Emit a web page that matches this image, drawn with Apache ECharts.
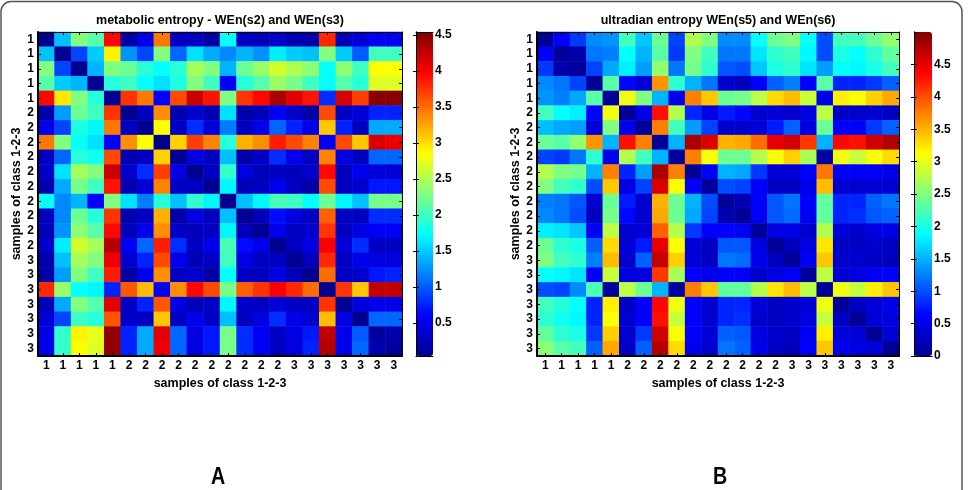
<!DOCTYPE html>
<html>
<head>
<meta charset="UTF-8">
<title>entropy heatmaps</title>
<script type="text/javascript" src="https://cdn.jsdelivr.net/npm/echarts@6/dist/echarts.min.js"></script>
<style type="text/css">
body {
	margin: 0;
	background-color: #ffffff
}
</style>
</head>
<body>
	<div id="chart" style="width: 973px; height: 490px"></div>
</body>
<script type="text/javascript">
	// class of each sample, same order on both axes
	var classLabels = ['1','1','1','1','1','2','2','2','2','2','2','2','2','2','2','3','3','3','3','3','3','3'];

	var titleA = 'metabolic entropy - WEn(s2) and WEn(s3)';
	var titleB = 'ultradian entropy WEn(s5) and WEn(s6)';
	var axisTitle = 'samples of class 1-2-3';

	// colour scale ranges
	var rangeA = [0.04, 4.54];
	var rangeB = [0, 5.0];

	// metabolic entropy matrix, one row per sample (top to bottom)
	var metabolic = [
		[0.05,1.45,2.3,2.1,3.95,0.15,0.5,3.45,0.3,0.3,0.15,1.75,0.3,0.25,0.35,0.2,0.2,3.8,0.25,0.4,0.55,0.55],
		[1.45,0.05,0.9,1.5,2.9,1.25,0.9,2.3,1.05,1.6,1.35,1.2,1.4,1.25,1.65,1.5,1.45,2.3,1.5,1.0,2.0,2.0],
		[2.3,0.9,0.05,1.4,2.3,2.2,1.9,1.75,1.9,2.45,2.3,1.4,2.2,2.4,2.65,2.5,2.35,1.75,2.35,2.0,2.85,2.85],
		[2.1,1.5,1.4,0.05,1.9,2.0,1.75,1.6,1.85,2.3,2.0,0.6,1.9,2.1,2.4,2.25,2.0,1.75,2.1,1.9,2.7,2.7],
		[3.95,2.95,2.3,1.9,0.05,3.75,3.45,0.6,3.65,4.2,3.9,2.3,3.75,3.95,4.35,4.1,3.9,0.8,4.15,3.7,4.5,4.5],
		[0.2,1.3,2.2,2.0,3.75,0.05,0.3,3.35,0.2,0.35,0.2,1.6,0.2,0.25,0.55,0.35,0.15,3.65,0.3,0.4,0.75,0.75],
		[0.5,0.9,1.85,1.7,3.45,0.3,0.05,2.85,0.3,0.8,0.4,1.15,0.3,0.5,1.05,0.75,0.5,3.1,0.75,0.3,1.35,1.35],
		[3.45,2.3,1.75,1.6,0.6,3.35,2.85,0.05,3.05,3.7,3.4,1.9,3.2,3.35,3.85,3.65,3.4,0.55,3.65,3.1,4.15,4.05],
		[0.3,1.05,1.9,1.8,3.65,0.2,0.3,3.05,0.05,0.45,0.3,1.45,0.15,0.3,0.8,0.5,0.3,3.4,0.45,0.3,1.05,1.05],
		[0.35,1.6,2.45,2.3,4.2,0.35,0.8,3.7,0.45,0.05,0.3,1.95,0.45,0.25,0.3,0.25,0.35,3.95,0.25,0.5,0.4,0.4],
		[0.2,1.35,2.25,2.0,3.9,0.2,0.4,3.4,0.3,0.3,0.05,1.7,0.25,0.3,0.5,0.3,0.15,3.65,0.3,0.35,0.7,0.7],
		[1.75,1.2,1.4,0.6,2.3,1.6,1.15,1.9,1.45,1.95,1.7,0.05,1.45,1.7,2.05,2.0,1.75,2.2,1.7,1.45,2.25,2.25],
		[0.3,1.2,2.2,1.9,3.75,0.2,0.3,3.2,0.15,0.45,0.25,1.45,0.05,0.25,0.65,0.45,0.3,3.55,0.3,0.3,0.8,0.8],
		[0.25,1.25,2.35,2.1,3.95,0.25,0.5,3.35,0.3,0.25,0.3,1.7,0.25,0.05,0.5,0.3,0.35,3.75,0.3,0.45,0.55,0.55],
		[0.35,1.65,2.65,2.45,4.3,0.55,1.05,3.85,0.8,0.3,0.5,2.05,0.65,0.5,0.05,0.3,0.45,4.0,0.4,0.8,0.3,0.3],
		[0.2,1.45,2.45,2.3,4.05,0.35,0.75,3.65,0.5,0.25,0.3,2.0,0.45,0.3,0.3,0.05,0.25,3.8,0.3,0.5,0.45,0.45],
		[0.15,1.3,2.3,2.0,3.85,0.15,0.5,3.35,0.3,0.35,0.15,1.75,0.3,0.3,0.45,0.25,0.05,3.5,0.3,0.35,0.7,0.75],
		[3.8,2.4,1.75,1.7,0.75,3.6,3.15,0.55,3.35,3.95,3.65,2.25,3.55,3.75,4.0,3.8,3.5,0.05,3.75,3.1,4.25,4.25],
		[0.25,1.35,2.3,2.1,4.1,0.3,0.75,3.6,0.45,0.25,0.3,1.7,0.35,0.3,0.4,0.3,0.3,3.75,0.05,0.45,0.5,0.5],
		[0.4,0.9,2.0,1.9,3.6,0.35,0.3,3.1,0.3,0.5,0.3,1.45,0.3,0.45,0.8,0.5,0.35,3.15,0.45,0.05,1.05,1.05],
		[0.5,1.95,2.9,2.75,4.45,0.75,1.35,4.1,1.05,0.45,0.7,2.25,0.8,0.55,0.3,0.45,0.7,4.25,0.5,1.0,0.1,0.2],
		[0.5,1.95,2.85,2.7,4.45,0.75,1.35,4.05,1.05,0.45,0.7,2.25,0.8,0.55,0.3,0.45,0.75,4.3,0.5,1.05,0.2,0.1]
	];

	// ultradian entropy matrix
	var ultradian = [
		[0.05,0.6,0.9,1.3,1.35,2.2,1.6,2.4,0.95,2.75,2.5,1.3,1.3,1.9,2.4,2.5,1.9,1.0,2.2,2.2,2.4,2.6],
		[0.6,0.05,0.15,1.2,1.25,1.9,1.5,2.3,0.9,2.5,2.2,1.2,1.2,1.75,2.1,2.2,1.85,1.0,2.0,1.9,2.1,2.35],
		[0.9,0.15,0.05,0.95,1.45,1.8,1.4,2.6,1.2,2.45,2.1,1.05,1.0,1.6,2.0,2.1,1.75,1.4,1.9,1.85,2.0,2.2],
		[1.3,1.2,0.95,0.05,2.3,0.65,0.4,3.65,2.1,1.5,1.2,0.35,0.25,0.6,1.1,1.25,0.6,2.3,0.8,0.8,0.9,1.1],
		[1.35,1.25,1.45,2.3,0.05,3.05,2.5,1.5,0.5,3.75,3.4,2.4,2.45,2.8,3.3,3.45,2.85,0.5,3.2,3.1,3.35,3.55],
		[2.2,1.9,1.8,0.65,3.05,0.05,0.5,4.3,2.75,0.8,0.45,0.75,0.65,0.35,0.4,0.35,0.45,2.8,0.3,0.35,0.35,0.3],
		[1.55,1.45,1.4,0.4,2.5,0.5,0.05,3.75,2.2,1.4,0.95,0.35,0.35,0.4,0.75,1.1,0.45,2.4,0.6,0.6,0.9,1.1],
		[2.4,2.3,2.6,3.65,1.5,4.3,3.75,0.05,1.5,4.8,4.55,3.5,3.55,3.85,4.5,4.6,4.1,1.5,4.35,4.3,4.6,4.75],
		[0.95,0.9,1.2,2.1,0.5,2.75,2.2,1.5,0.05,3.75,3.1,2.4,2.4,2.75,3.1,3.35,2.7,0.1,3.05,2.85,3.1,3.3],
		[2.75,2.5,2.45,1.5,3.75,0.8,1.4,4.8,3.75,0.05,0.6,1.5,1.45,0.9,0.4,0.4,0.6,3.8,0.6,0.6,0.6,0.5],
		[2.5,2.2,2.1,1.0,3.4,0.45,0.95,4.55,3.1,0.6,0.05,1.0,0.95,0.6,0.3,0.3,0.5,3.45,0.35,0.35,0.4,0.35],
		[1.25,1.2,1.05,0.35,2.4,0.75,0.35,3.5,2.4,1.5,1.0,0.05,0.2,0.6,1.05,1.2,0.6,2.35,0.8,0.8,1.1,1.2],
		[1.3,1.2,1.0,0.25,2.45,0.65,0.35,3.55,2.4,1.45,0.95,0.2,0.05,0.55,1.05,1.15,0.55,2.35,0.8,0.85,1.05,1.1],
		[1.8,1.75,1.6,0.6,2.8,0.35,0.4,3.9,2.75,0.9,0.6,0.6,0.55,0.05,0.45,0.5,0.35,2.75,0.4,0.35,0.45,0.5],
		[2.4,2.1,2.0,1.1,3.3,0.4,0.75,4.5,3.1,0.4,0.3,1.05,1.05,0.45,0.05,0.25,0.45,3.25,0.3,0.3,0.35,0.3],
		[2.5,2.2,2.1,1.25,3.45,0.35,1.1,4.65,3.35,0.4,0.3,1.2,1.15,0.5,0.25,0.05,0.55,3.4,0.35,0.35,0.3,0.25],
		[1.9,1.85,1.75,0.6,2.85,0.45,0.45,4.1,2.7,0.6,0.5,0.6,0.55,0.35,0.45,0.55,0.05,2.8,0.4,0.45,0.55,0.6],
		[1.0,0.95,1.3,2.25,0.1,2.8,2.4,1.5,0.1,3.75,3.4,2.35,2.35,2.75,3.25,3.45,2.8,0.05,3.05,2.85,3.2,3.4],
		[2.2,2.05,1.9,0.8,3.2,0.3,0.6,4.35,3.05,0.6,0.35,0.8,0.8,0.4,0.3,0.35,0.4,3.05,0.05,0.3,0.4,0.5],
		[2.1,1.95,1.85,0.8,3.1,0.35,0.6,4.3,2.85,0.6,0.35,0.8,0.85,0.35,0.3,0.35,0.45,2.85,0.3,0.05,0.4,0.45],
		[2.35,2.1,2.0,0.9,3.35,0.35,0.9,4.6,3.1,0.6,0.4,1.1,1.05,0.45,0.35,0.3,0.55,3.2,0.4,0.4,0.05,0.4],
		[2.55,2.3,2.2,1.1,3.55,0.3,1.1,4.75,3.3,0.5,0.35,1.2,1.1,0.5,0.3,0.25,0.6,3.4,0.5,0.45,0.4,0.05]
	];

	// matlab jet
	var jet = ['#00008f','#0000ff','#0080ff','#00ffff','#80ff80','#ffff00','#ff8000','#ff0000','#800000'];

	var FONT = "'Liberation Sans', Arial, sans-serif";
	var idx = classLabels.map(function(c, i) { return String(i); });

	function toCells(rows) {
		var out = [];
		for (var r = 0; r < rows.length; r++) {
			for (var c = 0; c < rows[r].length; c++) {
				out.push([c, r, rows[r][c]]);
			}
		}
		return out;
	}

	function labelStyle(show, margin) {
		return {
			show : show,
			interval : 0,
			margin : margin,
			color : '#000',
			fontFamily : FONT,
			fontWeight : 'bold',
			fontSize : 12,
			formatter : function(v, i) { return classLabels[i]; }
		};
	}

	function catX(grid, pos, main) {
		return {
			gridIndex : grid, type : 'category', data : idx, position : pos, z : 10,
			axisLine : { show : true, lineStyle : { color : '#000', width : main ? 2 : 1 } },
			axisTick : { show : true, inside : true, alignWithLabel : true, length : 3, lineStyle : { color : '#000' } },
			axisLabel : labelStyle(main, 4),
			splitLine : { show : false },
			name : main ? axisTitle : '', nameLocation : 'middle', nameGap : 20,
			nameTextStyle : { color : '#000', fontFamily : FONT, fontWeight : 'bold', fontSize : 12.5 }
		};
	}

	function catY(grid, pos, main) {
		return {
			gridIndex : grid, type : 'category', data : idx, position : pos, inverse : true, z : 10,
			axisLine : { show : true, lineStyle : { color : '#000', width : main ? 2 : 1 } },
			axisTick : { show : true, inside : true, alignWithLabel : true, length : 3, lineStyle : { color : '#000' } },
			axisLabel : labelStyle(main, 4),
			splitLine : { show : false },
			name : main ? axisTitle : '', nameLocation : 'middle', nameGap : 13,
			nameTextStyle : { color : '#000', fontFamily : FONT, fontWeight : 'bold', fontSize : 12.5 }
		};
	}

	function barX(grid, pos) {
		return {
			gridIndex : grid, type : 'value', min : 0, max : 1, position : pos, z : 10,
			axisLine : { show : true, lineStyle : { color : '#000', width : 1 } },
			axisTick : { show : false }, axisLabel : { show : false }, splitLine : { show : false }
		};
	}

	function barY(grid, pos, range, split, labels) {
		return {
			gridIndex : grid, type : 'value', min : range[0], max : range[1], splitNumber : split,
			position : pos, z : 10,
			axisLine : { show : true, lineStyle : { color : '#000', width : 1 } },
			axisTick : { show : true, inside : true, length : 3, lineStyle : { color : '#000' } },
			axisLabel : {
				show : labels, margin : 2, color : '#000', fontFamily : FONT, fontWeight : 'bold', fontSize : 12,
				showMinLabel : range[0] === 0, showMaxLabel : false
			},
			splitLine : { show : false }
		};
	}

	function titleAt(text, cx) {
		return {
			text : text, left : cx, top : 14, textAlign : 'center', padding : 0,
			textStyle : { color : '#000', fontFamily : FONT, fontWeight : 'bold', fontSize : 12.5 }
		};
	}

	function panelLetter(ch, x) {
		return { type : 'text', x : x, y : 477, scaleX : 0.82, style : { text : ch, fill : '#000',
			align : 'center', verticalAlign : 'middle', font : "bold 24px 'Liberation Sans', Arial, sans-serif" } };
	}

	var myChart = echarts.init(document.getElementById('chart'), null, { renderer : 'canvas' });
	var option = {
		animation : false,
		backgroundColor : '#ffffff',
		title : [ titleAt(titleA, 220), titleAt(titleB, 718) ],
		grid : [
			{ left : 38, top : 32, width : 364, height : 324 },
			{ left : 537, top : 32, width : 362, height : 324 },
			{ left : 416, top : 32, width : 17, height : 324 },
			{ left : 914, top : 32, width : 18, height : 324 }
		],
		xAxis : [
			catX(0, 'bottom', true), catX(0, 'top', false),
			catX(1, 'bottom', true), catX(1, 'top', false),
			barX(2, 'bottom'), barX(2, 'top'),
			barX(3, 'bottom'), barX(3, 'top')
		],
		yAxis : [
			catY(0, 'left', true), catY(0, 'right', false),
			catY(1, 'left', true), catY(1, 'right', false),
			barY(2, 'right', rangeA, 9, true), barY(2, 'left', rangeA, 9, false),
			barY(3, 'right', rangeB, 10, true), barY(3, 'left', rangeB, 10, false)
		],
		visualMap : [
			{ type : 'continuous', seriesIndex : 0, min : rangeA[0], max : rangeA[1], calculable : false,
				orient : 'vertical', left : 416, top : 32, itemWidth : 17, itemHeight : 324, padding : 0,
				inRange : { color : jet } },
			{ type : 'continuous', seriesIndex : 1, min : rangeB[0], max : rangeB[1], calculable : false,
				orient : 'vertical', left : 914, top : 32, itemWidth : 18, itemHeight : 324, padding : 0,
				inRange : { color : jet } }
		],
		series : [
			{ type : 'heatmap', xAxisIndex : 0, yAxisIndex : 0, data : toCells(metabolic),
				emphasis : { disabled : true }, progressive : 0 },
			{ type : 'heatmap', xAxisIndex : 2, yAxisIndex : 2, data : toCells(ultradian),
				emphasis : { disabled : true }, progressive : 0 }
		],
		graphic : [
			{ type : 'rect', shape : { x : 1, y : 1.5, width : 961, height : 540, r : 10 },
				style : { fill : null, stroke : '#555', lineWidth : 1.5 }, silent : true },
			panelLetter('A', 218),
			panelLetter('B', 720)
		]
	};
	myChart.setOption(option);
</script>
</html>
